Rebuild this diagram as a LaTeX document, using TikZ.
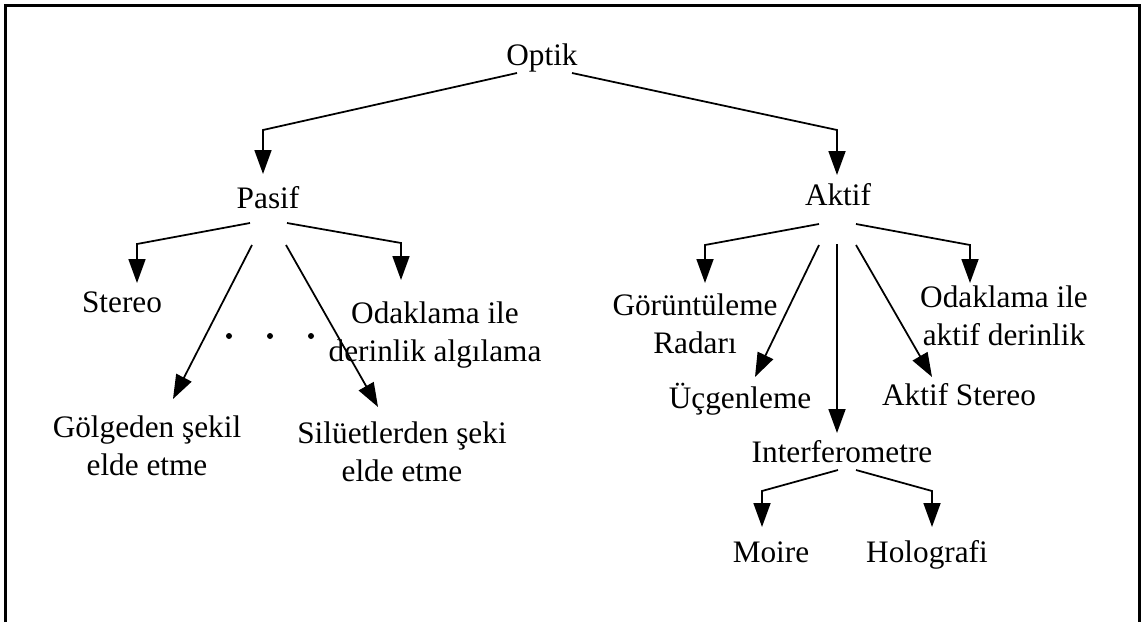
\documentclass[tikz,border=0pt]{standalone}
\usepackage{fontspec}
\setmainfont{Liberation Serif}
\usetikzlibrary{arrows.meta, calc}

\begin{document}
\begin{tikzpicture}[
        x=0.02cm, y=-0.02cm, % one unit = one pixel of the layout, y grows downwards
        >={Triangle[length=4.8mm, width=3.4mm]},
        lbl/.style={inner sep=0pt, anchor=base, align=center,
            font=\fontsize{17.8}{21.5}\selectfont},
        link/.style={->, line width=1pt},
        frame/.style={line width=1.7pt},
    ]

    \useasboundingbox (0,0) rectangle (1142,622);

    % Frame (open at the bottom)
    \draw[frame] (5.5,622) -- (5.5,5.5) -- (1139.5,5.5) -- (1139.5,622);

    % --- Nodes (placed at the baseline of their last line) ---
    \node[lbl] (optik) at (542,65) {Optik};

    \node[lbl] (pasif) at (268,208) {Pasif};
    \node[lbl] (aktif) at (838,205) {Aktif};

    % Passive methods
    \node[lbl] (stereo)  at (122,312) {Stereo};
    \node[lbl] (odakpas) at (435,361) {Odaklama ile\\derinlik algılama};
    \node[lbl] (golge)   at (147,475) {Gölgeden şekil\\elde etme};
    \node[lbl] (siluet)  at (402,481) {Silüetlerden şeki\\elde etme};

    % Active methods
    \node[lbl] (goruntu)   at (695,353)  {Görüntüleme\\Radarı};
    \node[lbl] (ucgen)     at (740,408)  {Üçgenleme};
    \node[lbl] (interf)    at (842,462)  {Interferometre};
    \node[lbl] (aktstereo) at (959,405)  {Aktif Stereo};
    \node[lbl] (odakakt)   at (1004,345) {Odaklama ile\\aktif derinlik};

    \node[lbl] (moire) at (771,562) {Moire};
    \node[lbl] (holo)  at (927,562) {Holografi};

    % --- Connectors ---
    % Optik
    \draw[link] ($(optik.base)+(-25,8)$) -- ($(pasif.base)+(-5,-78)$) -- ($(pasif.base)+(-5,-34)$);
    \draw[link] ($(optik.base)+(30,8)$) -- ($(aktif.base)+(-1,-75)$) -- ($(aktif.base)+(-1,-30)$);

    % Pasif
    \draw[link] ($(pasif.base)+(-18,15)$) -- ($(stereo.base)+(15,-68)$) -- ($(stereo.base)+(15,-29)$);
    \draw[link] ($(pasif.base)+(19,15)$) -- ($(odakpas.base)+(-34,-118)$) -- ($(odakpas.base)+(-34,-81)$);
    \draw[link] ($(pasif.base)+(-16,37)$) -- ($(golge.base)+(26,-76)$);
    \draw[link] ($(pasif.base)+(18,37)$) -- ($(siluet.base)+(-24,-74)$);

    % Aktif
    \draw[link] ($(aktif.base)+(-19,19)$) -- ($(goruntu.base)+(10,-108)$) -- ($(goruntu.base)+(10,-70)$);
    \draw[link] ($(aktif.base)+(-19,40)$) -- ($(ucgen.base)+(15,-31)$);
    \draw[link] ($(aktif.base)+(-1,39)$) -- ($(interf.base)+(-5,-29)$);
    \draw[link] ($(aktif.base)+(18,40)$) -- ($(aktstereo.base)+(-27,-28)$);
    \draw[link] ($(aktif.base)+(18,19)$) -- ($(odakakt.base)+(-34,-100)$) -- ($(odakakt.base)+(-34,-62)$);

    % Interferometre
    \draw[link] ($(interf.base)+(-4,8)$) -- ($(moire.base)+(-9,-71)$) -- ($(moire.base)+(-9,-35)$);
    \draw[link] ($(interf.base)+(14,8)$) -- ($(holo.base)+(5,-71)$) -- ($(holo.base)+(5,-35)$);

    % Ellipsis between the passive methods
    \foreach \dx in {229,270,311}{
        \fill (\dx,336) circle[radius=0.6mm];
    }

\end{tikzpicture}
\end{document}
